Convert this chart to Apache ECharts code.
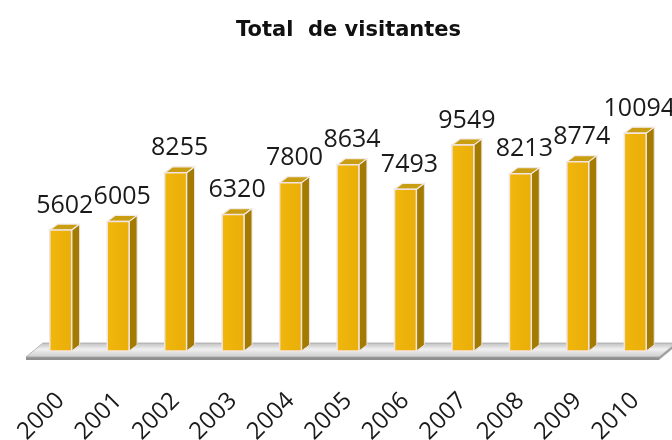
<!DOCTYPE html>
<html>
<head>
<meta charset="utf-8">
<script src="https://cdn.jsdelivr.net/npm/echarts@6/dist/echarts.min.js"></script>
<style>
html,body{margin:0;padding:0;background:#fff;}
#chart{width:672px;height:440px;}
</style>
</head>
<body>
<div id="chart"></div>
<script>
const titleText = 'Total  de visitantes';
const years = ['2000','2001','2002','2003','2004','2005','2006','2007','2008','2009','2010'];
const visitors = [5602, 6005, 8255, 6320, 7800, 8634, 7493, 9549, 8213, 8774, 10094];

const chart = echarts.init(document.getElementById('chart'));
const DX = 8, DY = 6;

function renderBar(params, api) {
  const idx = api.value(0);
  const v = api.value(1);
  const base = api.coord([idx, 0]);
  const top = api.coord([idx, v]);
  const bw = api.size([1, 0])[0] * 0.38;
  const x0 = top[0] - bw / 2, x1 = top[0] + bw / 2;
  const yt = top[1], yb = base[1];
  return {
    type: 'group',
    children: [
      { type: 'polygon', shape: { points: [[x1, yt], [x1 + DX, yt - DY], [x1 + DX, yb - DY], [x1, yb]] },
        style: { fill: '#A27B00', stroke: '#efe3df', lineWidth: 1 } },
      { type: 'polygon', shape: { points: [[x0, yt], [x0 + DX, yt - DY], [x1 + DX, yt - DY], [x1, yt]] },
        style: { fill: '#C99E12', stroke: '#f3ebe6', lineWidth: 1.2 } },
      { type: 'rect', shape: { x: x0, y: yt, width: bw, height: yb - yt },
        style: { fill: new echarts.graphic.LinearGradient(0, 0, 1, 0, [
          { offset: 0, color: '#F0B70C' }, { offset: 1, color: '#E9AE08' }]),
          stroke: '#f3e4e2', lineWidth: 1.5 } },
      { type: 'text', style: { text: String(v), x: top[0] + DX / 2, y: yt - DY - 6,
        align: 'center', verticalAlign: 'bottom',
        font: '25px "Open Sans", sans-serif', fill: '#1a1a1a' } }
    ]
  };
}

function renderFloor(params, api) {
  const cs = params.coordSys;
  const base = api.coord([0, 0])[1];
  const L = cs.x, R = cs.x + cs.width;
  const yt = base - 8, yb = base + 6;
  return {
    type: 'group',
    children: [
      { type: 'polygon', shape: { points: [[L - 6, yb], [R - 5, yb], [R - 5, yb + 3], [L - 6, yb + 3]] },
        style: { fill: '#8f8f8f' } },
      { type: 'polygon', shape: { points: [[R - 5, yb], [R + 12, yt], [R + 12, yt + 3], [R - 5, yb + 3]] },
        style: { fill: '#a0a0a0' } },
      { type: 'polygon', shape: { points: [[L - 6, yb], [L + 11, yt], [R + 12, yt], [R - 5, yb]] },
        style: { fill: new echarts.graphic.LinearGradient(0, 0, 0, 1, [
          { offset: 0, color: '#bdbdbd' }, { offset: 0.45, color: '#f0f0f0' }, { offset: 1, color: '#cbcbcb' }]),
          stroke: '#a8a8a8', lineWidth: 0.8 } }
    ]
  };
}

chart.setOption({
  animation: false,
  backgroundColor: '#ffffff',
  title: {
    text: titleText, left: 231, top: 15,
    textStyle: { fontFamily: '"DejaVu Sans", sans-serif', fontWeight: 'bold', fontSize: 21, color: '#111' }
  },
  grid: { left: 32, right: 8, top: 92, bottom: 89, containLabel: false, outerBoundsMode: 'none' },
  xAxis: {
    type: 'category', data: years,
    axisLine: { show: false }, axisTick: { show: false },
    axisLabel: { rotate: 45, margin: 46, fontSize: 24, color: '#1a1a1a', fontFamily: '"Open Sans", sans-serif' }
  },
  yAxis: { type: 'value', min: 0, max: 12000, show: false, splitLine: { show: false } },
  series: [
    { type: 'custom', renderItem: renderFloor, data: [[0, 0]], z: 1, silent: true },
    { type: 'custom', renderItem: renderBar, z: 2,
      data: years.map((y, i) => [i, visitors[i]]), encode: { x: 0, y: 1 } }
  ]
});
</script>
</body>
</html>
